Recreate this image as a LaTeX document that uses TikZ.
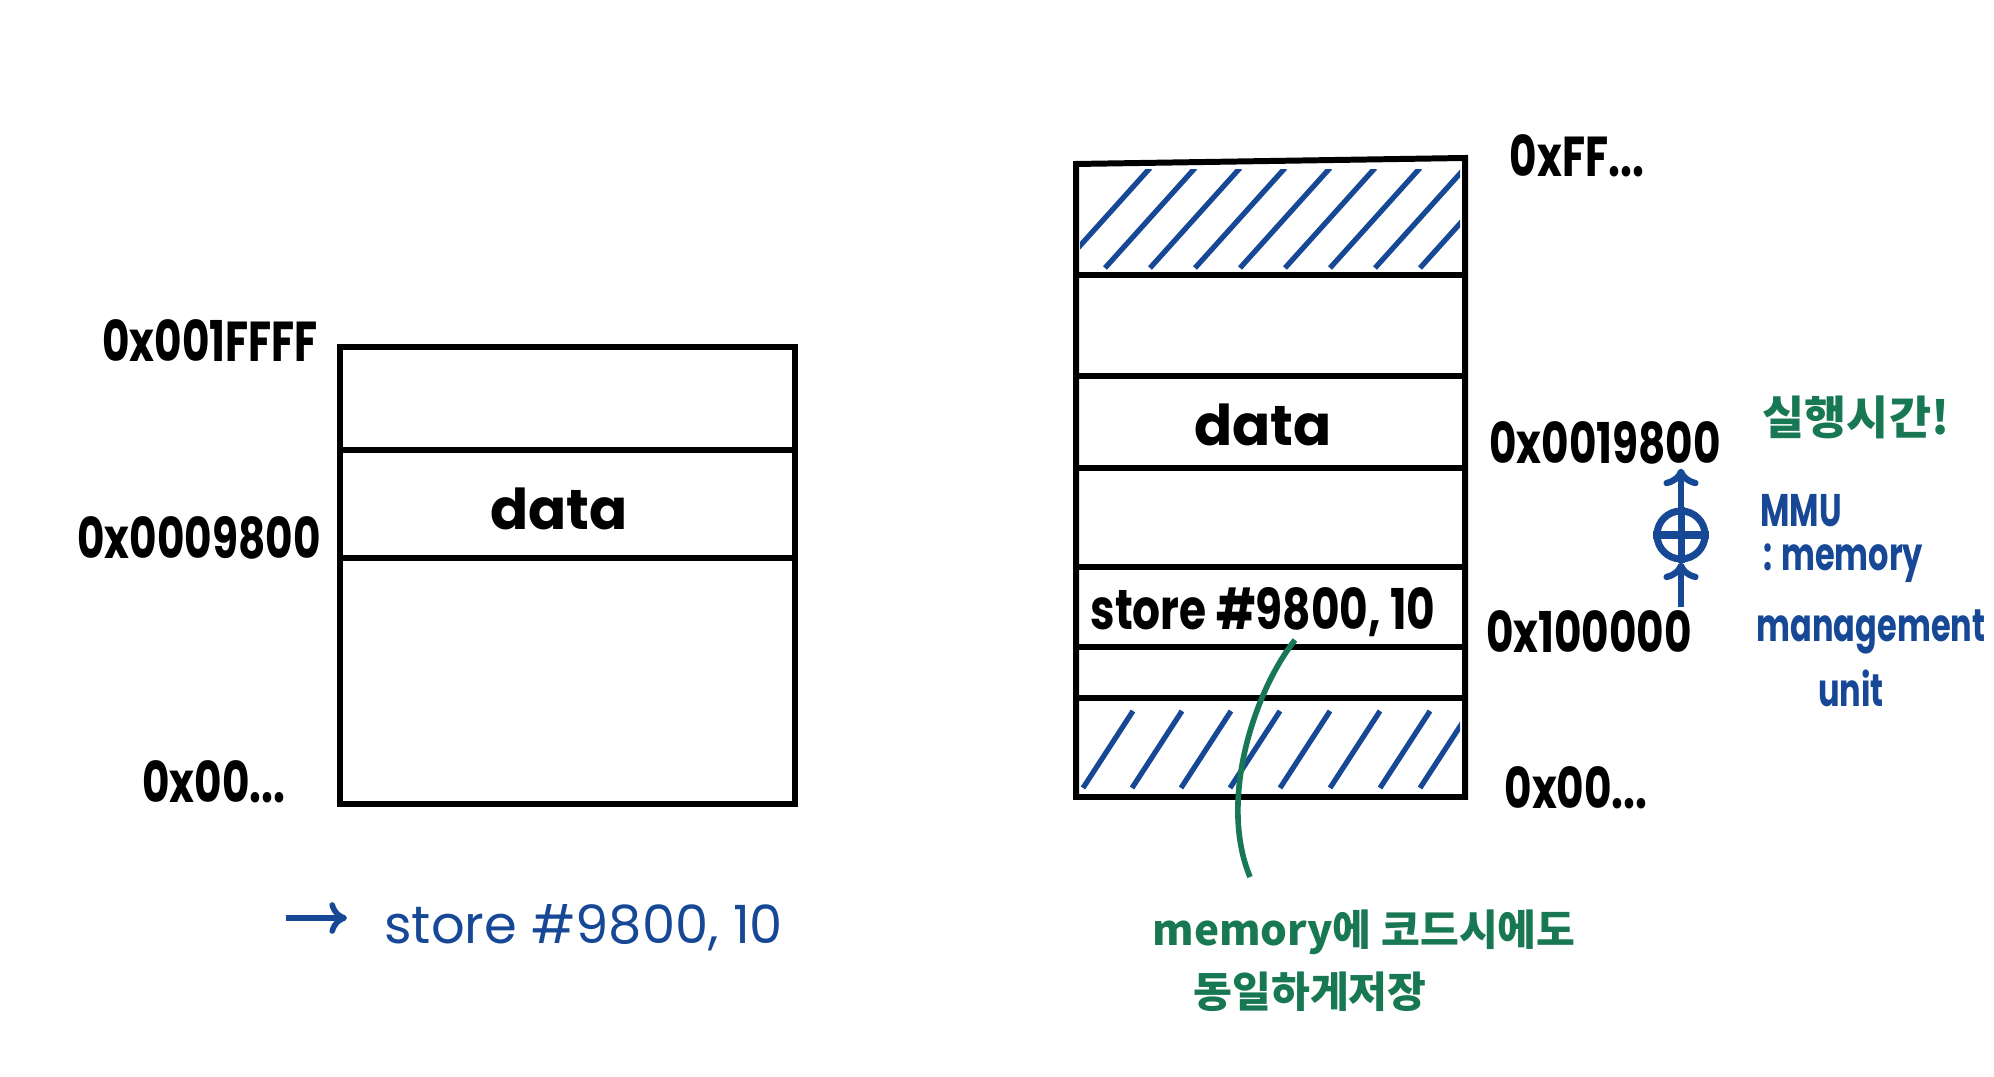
\documentclass[tikz,border=0pt]{standalone}
\usepackage{fontspec}
\setmainfont{Poppins}
\newfontfamily\kor{Noto Sans CJK KR}
\usetikzlibrary{arrows.meta}
\definecolor{penblue}{RGB}{22,72,150}
\definecolor{pengreen}{RGB}{24,120,84}
\begin{document}
\begin{tikzpicture}[x=0.01cm, y=-0.01cm,
    wall/.style={line width=1.7pt, black},
    hatch/.style={line width=1.5pt, penblue},
    addr/.style={font=\bfseries\fontsize{16}{18}\selectfont, xscale=0.75, inner sep=1pt},
    cell/.style={font=\bfseries\fontsize{16}{18}\selectfont, inner sep=1pt},
    bluenote/.style={penblue, font=\bfseries\fontsize{13}{15}\selectfont, xscale=0.7, inner sep=1pt},
    greennote/.style={pengreen, font=\kor\bfseries\fontsize{12}{14}\selectfont, inner sep=1pt}]
    \useasboundingbox (0,0) rectangle (1994,1077);
    % Left memory (logical addresses)
    \draw[wall] (340,347) rectangle (795,804);
    \draw[wall] (340,450) -- (795,450);
    \draw[wall] (340,558) -- (795,558);
    \node[addr] (lhi) at (210,341) {0x001FFFF};
    \node[addr] (lmid) at (199,538) {0x0009800};
    \node[addr] (llo) at (214,782) {0x00...};
    \node[cell] (ldata) at (559,509) {data};
    % Instruction below the left memory
    \coordinate (cmdtail) at (286,918);
    \node[penblue, font=\fontsize{15}{18}\selectfont, anchor=west] (cmd) at (372,928) {store \#9800, 10};
    \draw[penblue, line width=1.6pt, -{To[length=5pt,width=9pt]}, shorten >=0.25cm] (cmdtail) -- (cmdtail -| cmd.west);
    % Right memory (physical addresses)
    \draw[wall] (1076,164) -- (1465,158) -- (1465,797) -- (1076,797) -- cycle;
    \foreach \y in {275,376,468,567,647,698}
        \draw[wall] (1076,\y) -- (1465,\y);
    % Hatched regions (used by others)
    \begin{scope}
        \clip (1080,170) rectangle (1460,272);
        \foreach \x in {1060,1105,1150,1195,1240,1285,1330,1375,1420}
            \draw[hatch] (\x,268) -- ++(90,-100);
    \end{scope}
    \begin{scope}
        \clip (1080,702) rectangle (1460,792);
        \foreach \x in {1083,1132,1181,1230,1280,1330,1380,1420}
            \draw[hatch] (\x,788) -- ++(50,-77);
    \end{scope}
    \node[addr] (rtop) at (1577,156) {0xFF...};
    \node[cell] (rdata) at (1263,425) {data};
    \node[addr] (rhi) at (1605,443) {0x0019800};
    \node[cell, xscale=0.78] (rstore) at (1263,612) {store \#9800, 10};
    \node[addr] (rlo) at (1589,632) {0x100000};
    \node[addr] (rbot) at (1576,788) {0x00...};
    % MMU relocation
    \node[circle, draw=penblue, line width=2pt, minimum size=0.48cm, inner sep=0pt] (mmu) at (1681,535) {};
    \draw[penblue, line width=2pt] (mmu.west) -- (mmu.east);
    \draw[penblue, line width=2pt] (mmu.north) -- (mmu.south);
    \draw[penblue, line width=1.8pt, -{To[length=5pt,width=10pt]}] (mmu.south |- rlo.north) -- (mmu.south);
    \draw[penblue, line width=1.8pt, -{To[length=5pt,width=10pt]}] (mmu.north) -- (mmu.north |- rhi.south);
    \node[greennote, font=\kor\bfseries\fontsize{13}{15}\selectfont] (runtime) at (1856,417) {실행시간!};
    \node[bluenote] (mmu1) at (1801,511) {MMU};
    \node[bluenote] (mmu2) at (1843,563) {: memory};
    \node[bluenote] (mmu3) at (1871,632) {management};
    \node[bluenote] (mmu4) at (1851,688) {unit};
    % Note on the stored code
    \node[greennote] (note1) at (1364,932) {memory에 코드시에도};
    \node[greennote] (note2) at (1310,992) {동일하게저장};
    \coordinate (tipstart) at (1295,640);
    \coordinate (tipend) at (1250,877);
    \draw[pengreen, line width=1.6pt] (tipstart) .. controls (1255,690) and (1218,800) .. (tipend);
\end{tikzpicture}
\end{document}
